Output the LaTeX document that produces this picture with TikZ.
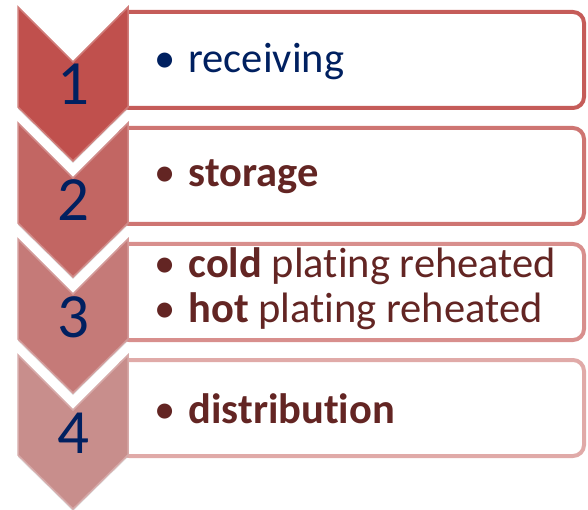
\documentclass[tikz,border=0pt]{standalone}
\usepackage{fontspec}
\setmainfont{Carlito}[Ligatures=NoCommon]
\usetikzlibrary{shadows}
\definecolor{chevA}{RGB}{192,80,77}
\definecolor{chevB}{RGB}{194,102,99}
\definecolor{chevC}{RGB}{197,122,120}
\definecolor{chevD}{RGB}{200,142,140}
\definecolor{rimA}{RGB}{197,92,89}
\definecolor{rimB}{RGB}{206,117,114}
\definecolor{rimC}{RGB}{216,143,141}
\definecolor{rimD}{RGB}{224,170,168}
\definecolor{numblue}{RGB}{0,32,96}
\definecolor{itemred}{RGB}{99,37,35}

\tikzset{
  stepcard/.style={line width=4pt, fill=white, rounded corners=11pt},
  chevron/.style={line width=1.5pt, line join=miter,
    drop shadow={opacity=0.25, shadow xshift=0pt, shadow yshift=-2pt}},
  stepnum/.style={anchor=base, text=numblue, font=\fontsize{63}{70}\selectfont},
  itemtext/.style={anchor=base west, font=\fontsize{42.5}{51}\selectfont},
}
\newcommand{\itembul}{\makebox[34pt][l]{\textbullet}}

\begin{document}
\begin{tikzpicture}[x=1pt,y=-1pt]
    \useasboundingbox (0,0) rectangle (588,510);
    % cards on the right
    \foreach \i/\rim in {1/rimA,2/rimB,3/rimC,4/rimD}{
      \pgfmathsetmacro{\t}{7+116*(\i-1)}
      \draw[stepcard,draw=\rim] (118,\t+5) rectangle (584,\t+101);
    }
    % chevrons with the step numbers
    \foreach \i/\fc in {4/chevD,3/chevC,2/chevB,1/chevA}{
      \pgfmathsetmacro{\t}{7+116*(\i-1)}
      \draw[chevron,fill=\fc,draw=\fc!75!white]
        (18,\t) -- (73,\t+55) -- (128,\t) -- (128,\t+100)
        -- (73,\t+154) -- (18,\t+100) -- cycle;
      \node[stepnum] (num\i) at (73,\t+98) {\i};
    }
    % items
    \node[itemtext,text=numblue] (recv) at (151,73) {\itembul receiving};
    \node[itemtext,text=itemred] (stor) at (151,187) {\itembul\textbf{storage}};
    \node[itemtext,text=itemred] (cold) at (151,277) {\itembul\textbf{cold} plating reheated};
    \node[itemtext,text=itemred] (hot) at (151,322) {\itembul\textbf{hot} plating reheated};
    \node[itemtext,text=itemred] (dist) at (151,423) {\itembul\textbf{distribution}};
\end{tikzpicture}
\end{document}
